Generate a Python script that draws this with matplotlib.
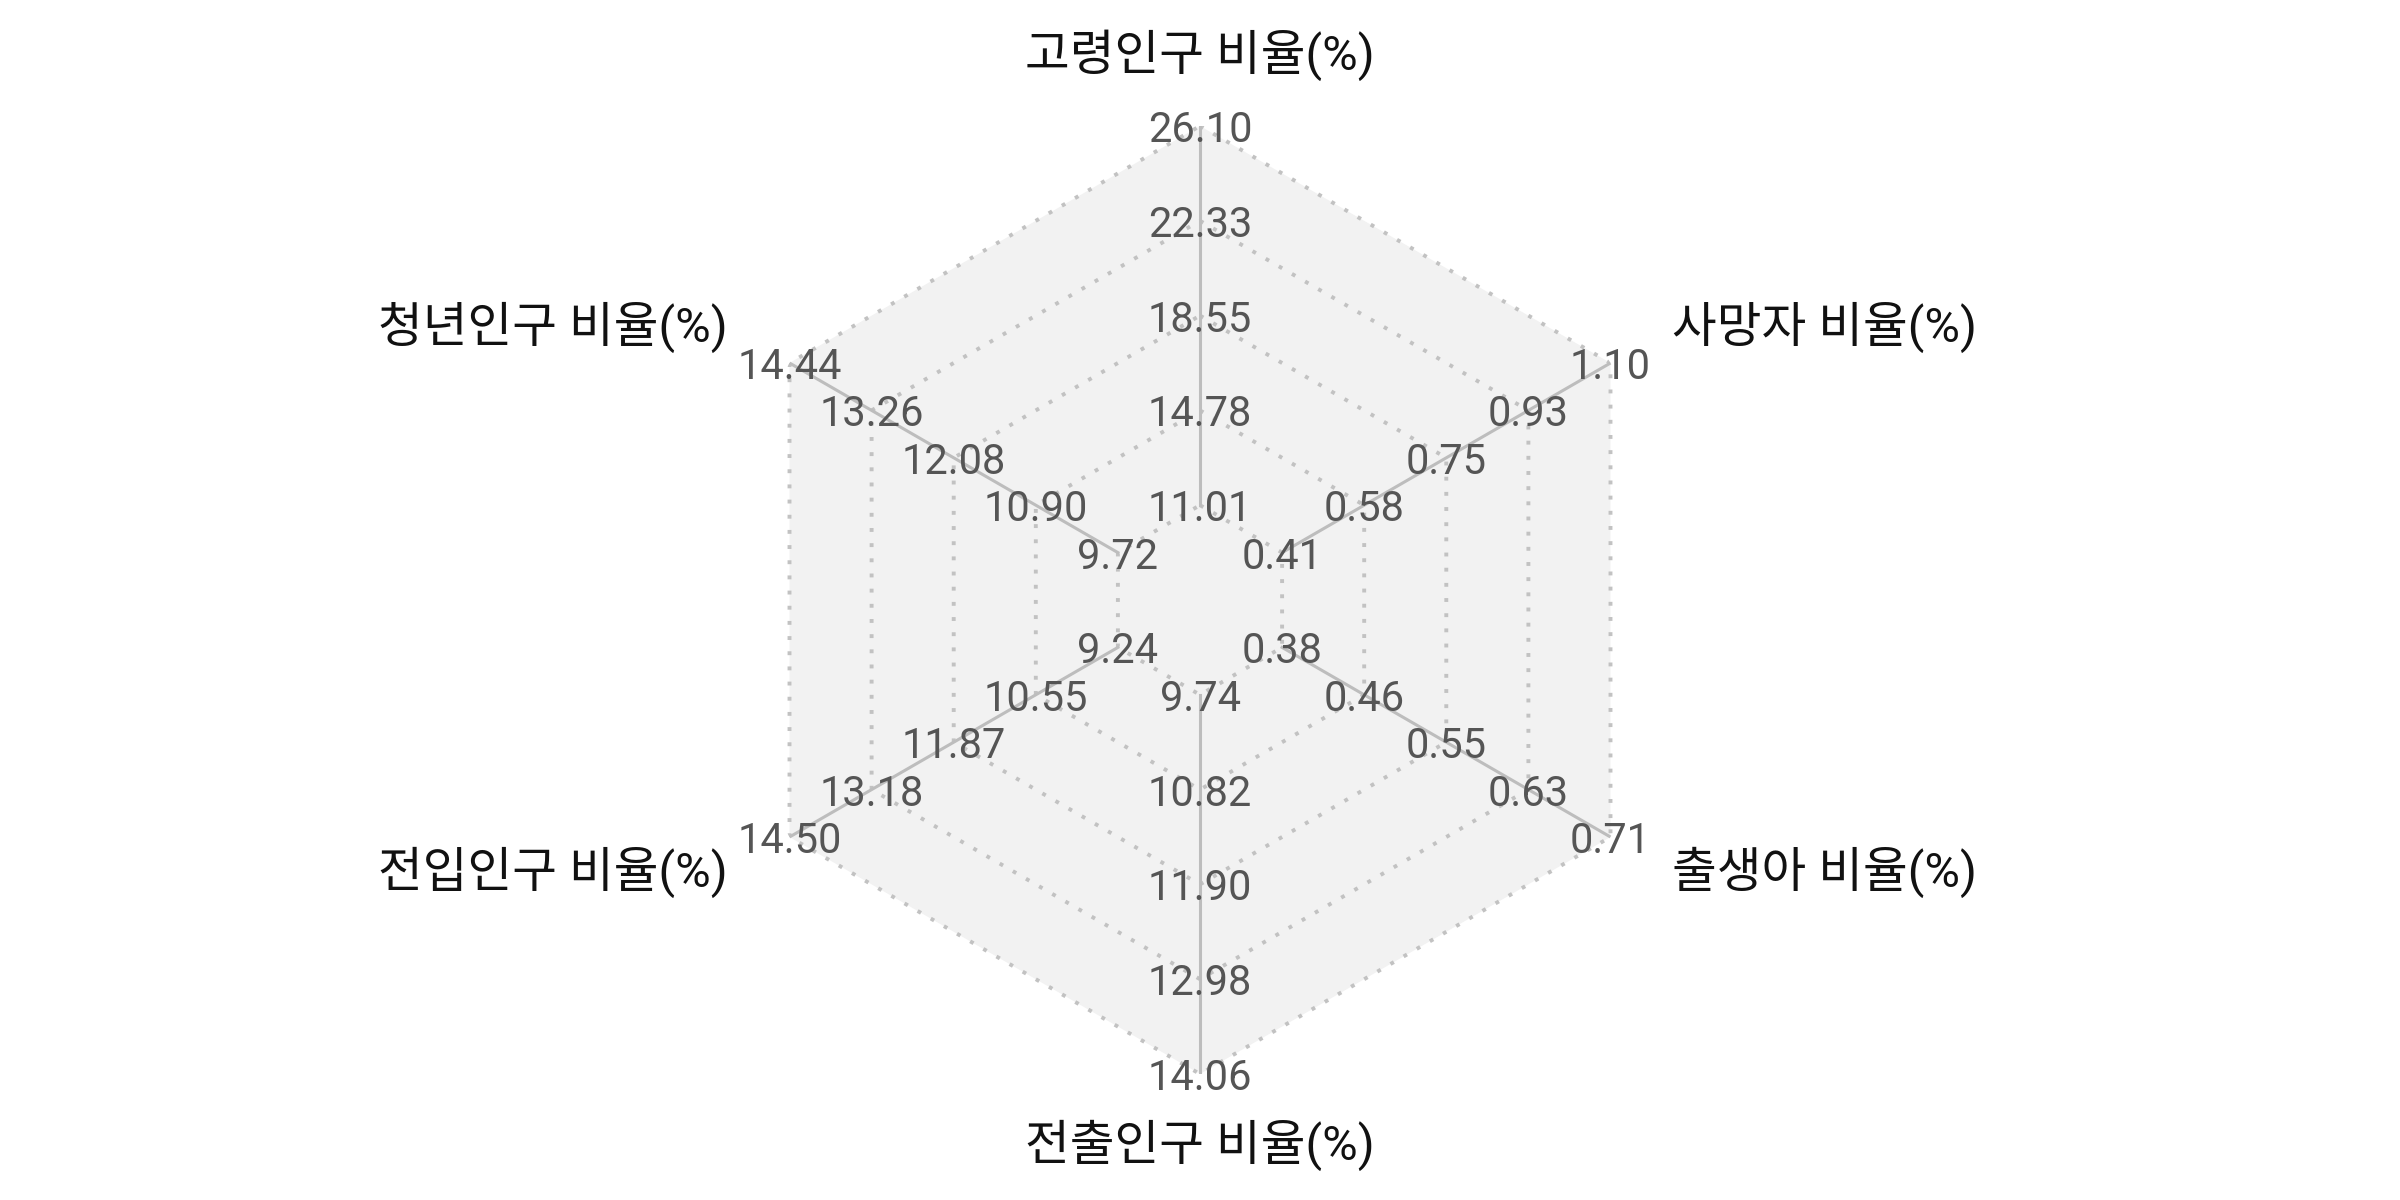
import numpy as np
import matplotlib
matplotlib.use("Agg")
import matplotlib.pyplot as plt

plt.rcParams['font.family'] = ['Roboto', 'Noto Sans CJK KR', 'DejaVu Sans']

# axes, clockwise from the top
categories = ['고령인구 비율(%)', '사망자 비율(%)', '출생아 비율(%)',
              '전출인구 비율(%)', '전입인구 비율(%)', '청년인구 비율(%)']

# tick labels on each axis, inner ring -> outer ring
ticks_elderly = ['11.01', '14.78', '18.55', '22.33', '26.10']
ticks_death = ['0.41', '0.58', '0.75', '0.93', '1.10']
ticks_birth = ['0.38', '0.46', '0.55', '0.63', '0.71']
ticks_moveout = ['9.74', '10.82', '11.90', '12.98', '14.06']
ticks_movein = ['9.24', '10.55', '11.87', '13.18', '14.50']
ticks_youth = ['9.72', '10.90', '12.08', '13.26', '14.44']
tick_sets = [ticks_elderly, ticks_death, ticks_birth, ticks_moveout, ticks_movein, ticks_youth]

n = len(categories)
angles = np.arange(n) * 2 * np.pi / n
levels = np.arange(1, 6) / 5

fig = plt.figure(figsize=(12, 6), dpi=200)
R = 474
ax = fig.add_axes([(1200 - R) / 2400, (600 - R) / 1200, 2 * R / 2400, 2 * R / 1200],
                  projection='polar')
ax.set_theta_zero_location('N')
ax.set_theta_direction(-1)
ax.set_ylim(0, 1)
ax.grid(False)
ax.set_xticks([])
ax.set_yticks([])
ax.spines['polar'].set_visible(False)
ax.patch.set_visible(False)

closed = np.append(angles, angles[0])
ax.fill(closed, np.ones(n + 1), color='#f2f2f2', zorder=0, lw=0)

for lv in levels:
    ax.plot(closed, np.full(n + 1, lv), color='#c2c2c2', lw=1.4,
            linestyle=(0, (1, 2.9)), dash_capstyle='butt', zorder=1)

for a in angles:
    ax.plot([a, a], [levels[0], 1], color='#bdbdbd', lw=1.1, zorder=2)

for a, ticks in zip(angles, tick_sets):
    for lv, t in zip(levels, ticks):
        ax.text(a, lv, t, ha='center', va='center_baseline', fontsize=15,
                color='#555555', zorder=3, clip_on=False)

for a, name in zip(angles, categories):
    s = np.sin(a)
    ha = 'center' if abs(s) < 1e-6 else ('left' if s > 0 else 'right')
    ax.text(a, 1.15, name, ha=ha, va='center', fontsize=17.5,
            color='#111111', clip_on=False)

fig.savefig('out.png', dpi=200, facecolor='white')
